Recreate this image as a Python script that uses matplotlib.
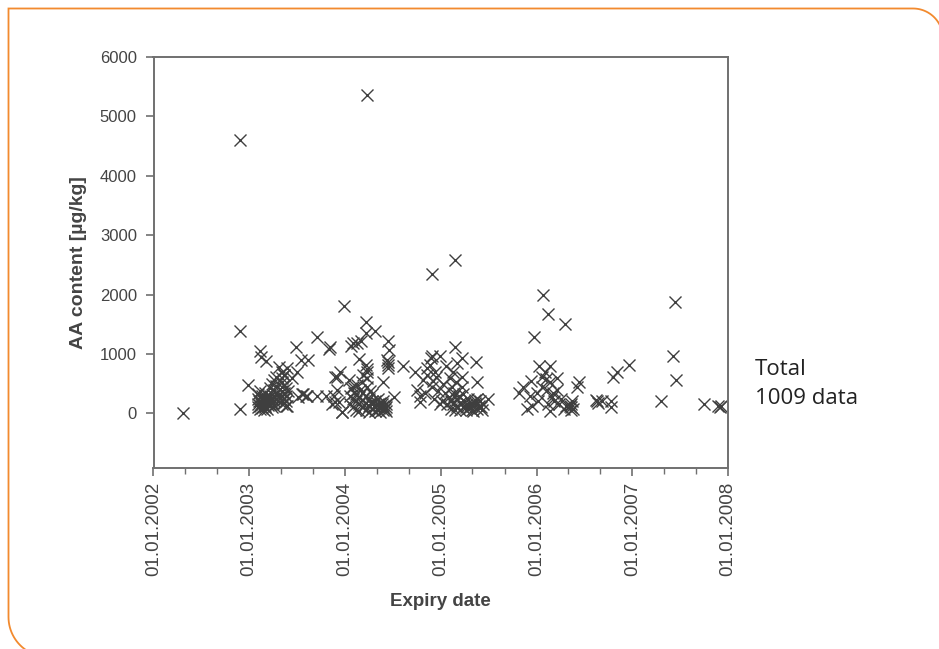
import matplotlib
matplotlib.use('Agg')
import matplotlib.pyplot as plt
import matplotlib.dates as mdates
from matplotlib.path import Path
from matplotlib.patches import PathPatch
import numpy as np

# (expiry date, AA content in ug/kg), grouped by year of expiry
pts_2002 = [('2002-04-25', 10), ('2002-11-25', 80), ('2002-11-28', 4600),
            ('2002-11-28', 1380), ('2002-12-28', 480)]

pts_2003 = [
    ('2003-02-10', 1050), ('2003-02-14', 950), ('2003-03-05', 880), ('2003-04-25', 780),
    ('2003-06-27', 1110), ('2003-07-18', 890), ('2003-08-15', 890), ('2003-09-15', 1280),
    ('2003-11-01', 1090), ('2003-05-26', 770), ('2003-07-01', 690), ('2003-06-15', 600),
    ('2003-05-15', 640), ('2003-07-22', 320), ('2003-08-07', 290), ('2003-09-15', 290),
    ('2003-07-05', 270), ('2003-07-25', 330), ('2003-08-10', 300), ('2003-11-12', 150),
    ('2003-12-03', 620), ('2003-12-22', 20), ('2003-12-01', 400), ('2003-11-20', 290),
    ('2003-12-10', 185), ('2003-05-26', 120), ('2003-05-28', 370),
    ('2003-02-05', 150), ('2003-02-05', 250), ('2003-02-05', 320), ('2003-02-05', 100),
    ('2003-02-12', 200), ('2003-02-12', 120), ('2003-02-12', 280), ('2003-02-12', 70),
    ('2003-02-12', 380), ('2003-02-20', 180), ('2003-02-20', 230), ('2003-02-20', 300),
    ('2003-02-20', 90), ('2003-02-20', 150), ('2003-03-01', 200), ('2003-03-01', 260),
    ('2003-03-01', 130), ('2003-03-01', 350), ('2003-03-01', 100), ('2003-03-10', 170),
    ('2003-03-10', 240), ('2003-03-10', 310), ('2003-03-10', 80), ('2003-03-20', 220),
    ('2003-03-20', 150), ('2003-03-20', 420), ('2003-03-20', 290), ('2003-03-28', 250),
    ('2003-03-28', 180), ('2003-03-28', 500), ('2003-03-28', 110), ('2003-04-05', 300),
    ('2003-04-05', 200), ('2003-04-05', 560), ('2003-04-05', 400), ('2003-04-05', 130),
    ('2003-04-12', 350), ('2003-04-12', 250), ('2003-04-12', 620), ('2003-04-12', 460),
    ('2003-02-08', 210), ('2003-02-16', 160), ('2003-02-25', 240), ('2003-03-05', 190),
    ('2003-03-14', 140), ('2003-03-24', 200), ('2003-02-28', 60), ('2003-03-16', 260),
    ('2003-05-05', 700), ('2003-05-05', 600), ('2003-05-05', 520), ('2003-05-05', 450),
    ('2003-05-05', 380), ('2003-05-05', 300), ('2003-05-05', 220), ('2003-05-05', 150),
    ('2003-05-12', 650), ('2003-05-12', 480), ('2003-05-12', 350), ('2003-05-12', 250),
    ('2003-05-12', 180), ('2003-05-20', 420), ('2003-05-20', 300), ('2003-05-20', 200),
    ('2003-05-20', 120),
]

pts_2004 = [
    ('2003-12-27', 1800), ('2003-11-05', 1110), ('2004-01-23', 1140), ('2004-02-18', 1190),
    ('2004-03-27', 5360), ('2004-03-23', 1530), ('2004-03-22', 1360), ('2004-04-24', 1380),
    ('2004-02-01', 1190), ('2004-03-04', 1210), ('2004-06-15', 1210), ('2004-06-18', 1075),
    ('2004-06-15', 870), ('2004-06-15', 770), ('2004-08-09', 790), ('2004-03-27', 740),
    ('2004-03-27', 600), ('2004-02-25', 910), ('2003-12-15', 690), ('2003-11-25', 620),
    ('2004-01-15', 570), ('2004-02-01', 450), ('2004-03-05', 520), ('2004-05-24', 520),
    ('2004-07-05', 270), ('2003-11-25', 185), ('2003-10-20', 290), ('2003-12-22', 17),
    ('2004-03-20', 820), ('2004-03-25', 700), ('2004-06-10', 900), ('2004-06-12', 820),
    ('2004-01-20', 300), ('2004-01-20', 150), ('2004-01-25', 420), ('2004-02-01', 250),
    ('2004-02-01', 100), ('2004-02-05', 350), ('2004-02-12', 200), ('2004-02-12', 60),
    ('2004-02-12', 320), ('2004-02-15', 480), ('2004-02-25', 150), ('2004-02-25', 280),
    ('2004-02-25', 40), ('2004-02-28', 400), ('2004-03-08', 220), ('2004-03-08', 100),
    ('2004-03-08', 350), ('2004-03-10', 650), ('2004-03-20', 180), ('2004-03-20', 60),
    ('2004-03-20', 300), ('2004-03-25', 450), ('2004-04-01', 250), ('2004-04-01', 120),
    ('2004-04-01', 30), ('2004-04-05', 380), ('2004-04-12', 200), ('2004-04-12', 80),
    ('2004-04-12', 150), ('2004-04-15', 320), ('2004-04-25', 100), ('2004-04-25', 200),
    ('2004-04-25', 40), ('2004-05-05', 150), ('2004-05-05', 60), ('2004-05-05', 250),
    ('2004-05-15', 100), ('2004-05-15', 180), ('2004-05-15', 30), ('2004-05-25', 120),
    ('2004-05-25', 60), ('2004-05-25', 200), ('2004-06-05', 100), ('2004-06-05', 40),
    ('2004-06-05', 160), ('2004-03-15', 140), ('2004-04-08', 170), ('2004-04-20', 130),
    ('2004-05-10', 90), ('2004-05-20', 150), ('2004-06-01', 70),
]

pts_2005 = [
    ('2004-09-24', 700), ('2004-11-09', 770), ('2004-10-24', 570), ('2004-12-15', 620),
    ('2004-11-27', 2350), ('2004-11-30', 960), ('2004-12-27', 960), ('2005-02-24', 2590),
    ('2005-02-24', 1110), ('2005-02-06', 600), ('2005-03-21', 940), ('2005-03-24', 620),
    ('2005-03-24', 440), ('2005-05-15', 870), ('2005-05-18', 520), ('2004-11-01', 350),
    ('2004-11-27', 450), ('2005-02-12', 450), ('2004-10-12', 185), ('2004-12-27', 150),
    ('2005-06-28', 235), ('2005-05-20', 240), ('2004-11-24', 940), ('2004-10-01', 400),
    ('2004-10-15', 300), ('2004-11-10', 650), ('2004-11-20', 820), ('2004-12-01', 540),
    ('2004-12-05', 250), ('2004-12-10', 700), ('2004-12-20', 380), ('2005-01-05', 200),
    ('2005-01-10', 500), ('2005-01-15', 350), ('2005-01-20', 800), ('2005-01-25', 150),
    ('2005-02-01', 280), ('2005-02-15', 700), ('2005-02-20', 350), ('2005-03-01', 520),
    ('2005-03-05', 850), ('2005-03-10', 300),
    ('2005-02-10', 200), ('2005-02-10', 80), ('2005-02-15', 150), ('2005-02-20', 300),
    ('2005-02-25', 60), ('2005-03-05', 120), ('2005-03-05', 250), ('2005-03-15', 180),
    ('2005-03-15', 50), ('2005-03-25', 320), ('2005-03-25', 100), ('2005-04-01', 200),
    ('2005-04-05', 60), ('2005-04-10', 150), ('2005-04-15', 250), ('2005-04-20', 90),
    ('2005-04-25', 180), ('2005-05-01', 120), ('2005-05-05', 40), ('2005-05-10', 220),
    ('2005-05-15', 150), ('2005-05-20', 70), ('2005-05-25', 120), ('2005-06-01', 200),
    ('2005-06-05', 60), ('2005-06-10', 150), ('2005-04-08', 110), ('2005-04-28', 60),
    ('2005-05-12', 170), ('2005-06-03', 110),
]

pts_2006 = [
    ('2006-01-25', 2000), ('2006-02-14', 1680), ('2006-04-21', 1500), ('2005-12-21', 1280),
    ('2006-01-12', 790), ('2006-02-21', 790), ('2006-02-03', 690), ('2006-03-21', 600),
    ('2005-12-12', 540), ('2005-11-09', 440), ('2005-10-27', 350), ('2005-12-06', 290),
    ('2006-01-03', 350), ('2006-01-21', 450), ('2006-02-21', 520), ('2006-03-21', 400),
    ('2006-02-27', 270), ('2005-12-15', 120), ('2006-02-21', 35), ('2006-04-15', 70),
    ('2006-06-06', 450), ('2006-06-12', 520), ('2005-11-24', 70), ('2006-05-12', 100),
    ('2006-05-12', 160), ('2006-05-12', 60), ('2006-05-15', 200), ('2006-05-10', 120),
    ('2006-05-18', 80), ('2006-01-20', 620), ('2006-02-05', 580), ('2006-02-10', 400),
    ('2006-03-05', 350), ('2006-03-10', 200), ('2006-02-15', 150), ('2006-01-08', 200),
    ('2006-03-28', 150), ('2006-04-05', 250), ('2006-04-25', 120),
]

pts_2007 = [
    ('2006-08-19', 200), ('2006-08-22', 180), ('2006-08-16', 220), ('2006-09-07', 200),
    ('2006-10-10', 200), ('2006-10-10', 100), ('2006-10-19', 620), ('2006-11-04', 690),
    ('2006-12-19', 810), ('2007-04-19', 200), ('2007-06-04', 960), ('2007-06-12', 1870),
    ('2007-06-16', 570), ('2007-10-01', 150), ('2007-11-24', 120), ('2007-12-07', 130),
    ('2007-12-01', 110),
]

all_pts = pts_2002 + pts_2003 + pts_2004 + pts_2005 + pts_2006 + pts_2007
dates = np.array([d for d, _ in all_pts], dtype='datetime64[D]')
values = np.array([v for _, v in all_pts], dtype=float)

W, H = 939, 649
fig = plt.figure(figsize=(W / 100, H / 100), dpi=100)
fig.patch.set_facecolor('white')

ax = fig.add_axes([153.5 / W, 1 - 468 / H, (728 - 153.5) / W, (468 - 57) / H])

ax.plot(dates, values, linestyle='none', marker='x', markersize=8.5,
        markeredgewidth=1.0, color='#3f3f3f')

ax.set_xlim(np.datetime64('2002-01-01'), np.datetime64('2008-01-01'))
ax.set_ylim(-920, 6000)
ax.set_yticks(np.arange(0, 6001, 1000))

ax.xaxis.set_major_locator(mdates.YearLocator())
ax.xaxis.set_minor_locator(mdates.MonthLocator(bymonth=[5, 9]))
ax.xaxis.set_major_formatter(mdates.DateFormatter('%d.%m.%Y'))

label_font = ['Liberation Sans', 'DejaVu Sans']
grey = '#707070'
for side in ['left', 'right', 'top', 'bottom']:
    ax.spines[side].set_color(grey)
    ax.spines[side].set_linewidth(1.4)

ax.tick_params(axis='both', which='major', length=6, width=1.2, color=grey,
               labelcolor='#444444', direction='out')
ax.tick_params(axis='x', which='minor', length=4, width=1.0, color=grey, direction='out')
ax.tick_params(axis='y', labelsize=12, pad=6)
ax.tick_params(axis='x', labelsize=13.5, pad=4, labelrotation=90)
for lab in ax.get_xticklabels() + ax.get_yticklabels():
    lab.set_family(label_font)

ax.set_ylabel('AA content [µg/kg]', fontsize=14, fontweight='bold',
              color='#444444', family=label_font, labelpad=9)
ax.set_xlabel('Expiry date', fontsize=13.5, fontweight='bold',
              color='#444444', family=label_font, labelpad=12)

fig.text(755 / W, 1 - 384 / H, 'Total\n1009 data', fontsize=16,
         family=['Open Sans', 'DejaVu Sans'], color='#222222',
         va='center', ha='left', linespacing=1.5)

# orange frame: square top-left corner, rounded top-right and bottom-left
r_tr, r_bl = 30, 40
tr_cx, tr_cy = 913, 8.5 + r_tr
bl_cx, bl_cy = 8.5 + r_bl, 617
arc = np.linspace(0, np.pi / 2, 25)
tr_pts = [(tr_cx + r_tr * np.cos(a), tr_cy - r_tr * np.sin(a)) for a in arc]
bl_pts = [(bl_cx - r_bl * np.cos(a), bl_cy + r_bl * np.sin(a)) for a in arc]
frame = tr_pts + [(8.5, 8.5)] + bl_pts
verts = [(x / W, 1 - y / H) for x, y in frame]
codes = [Path.MOVETO] + [Path.LINETO] * (len(verts) - 1)
fig.add_artist(PathPatch(Path(verts, codes), transform=fig.transFigure,
                         facecolor='none', edgecolor='#f28a2e', linewidth=1.3))

fig.savefig('out.png', dpi=100)
